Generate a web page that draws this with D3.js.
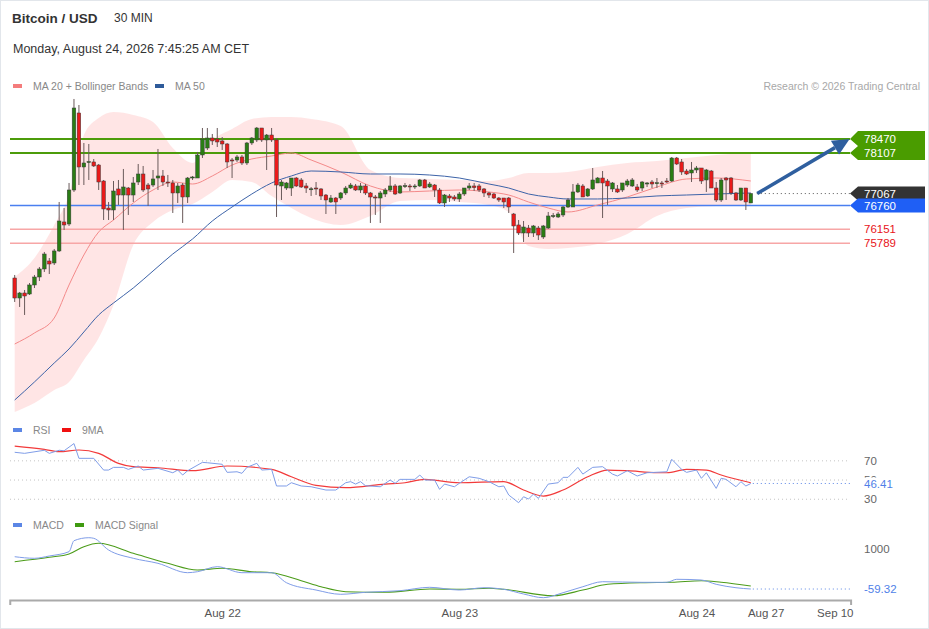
<!DOCTYPE html>
<html>
<head>
<meta charset="utf-8">
<script src="https://cdn.jsdelivr.net/npm/d3@7/dist/d3.min.js"></script>
<style>
  body { margin: 0; background: #fff; }
  svg { display: block; font-family: "Liberation Sans", Arial, sans-serif; }
</style>
</head>
<body>
<svg width="929" height="629"></svg>
<script>
// candles, 30 min, [open, high, low, close]
const candles = [
  [74897,74975,74281,74383],[74383,74538,74152,74512],[74512,74589,73947,74435],[74486,74769,74460,74718],
  [74718,74975,74640,74923],[74923,75180,74820,75129],[75129,75566,75052,75514],[75334,75411,75000,75257],
  [75283,75643,75231,75592],[75592,76851,75566,76362],[76337,76696,76131,76260],[76285,77339,76234,77159],
  [77159,79498,77108,79266],[79138,79343,77287,77750],[77750,78367,77287,77853],[77879,78341,77416,77890],
  [77879,77955,77750,77776],[77801,77827,77159,77364],[77390,77416,76388,76671],[76696,76851,76388,76645],
  [76645,77390,76388,77133],[77185,77416,76774,77030],[77030,77699,76131,77236],[77210,77236,76517,77030],
  [77030,77493,76851,77339],[77364,77827,77287,77570],[77570,77776,77108,77159],[77287,77339,76748,77185],
  [77287,77673,77236,77442],[77467,78213,77159,77519],[77519,77673,77262,77364],[77364,77545,77236,77339],
  [77339,77416,76568,77082],[77082,77339,76825,77262],[77287,77339,76311,76979],[76979,77493,76825,77467],
  [77467,77519,77416,77493],[77467,78136,77467,78059],[78059,78752,77981,78470],[78238,78752,78187,78495],
  [78495,78598,78316,78419],[78470,78752,78264,78393],[78419,78520,78187,78341],[78341,78367,77724,77879],
  [77930,77981,77467,77904],[77930,78059,77879,78007],[78007,78059,77801,77853],[77853,78393,77801,78367],
  [78367,78520,78316,78495],[78444,78778,78393,78752],[78752,78752,78393,78444],[78444,78598,77673,78572],
  [78572,78752,78393,78444],[78444,78495,76465,77287],[77262,77416,76902,77364],[77210,77364,77159,77339],
  [77210,77467,77005,77467],[77467,77493,77236,77262],[77416,77467,77210,77236],[77262,77339,77082,77210],
  [77185,77236,77005,77190],[77210,77364,77030,77185],[77185,77210,76902,77005],[77030,77056,76542,76902],
  [76851,77030,76825,76953],[76953,76979,76542,76851],[76953,77108,76902,77082],[77082,77262,77030,77210],
  [77210,77339,77185,77287],[77262,77313,77133,77159],[77159,77339,77082,77262],[77262,77313,77030,77082],
  [77082,77108,76311,76979],[76979,77030,76517,76953],[76953,77133,76311,77082],[77056,77210,76979,77159],
  [77159,77519,77108,77262],[77262,77313,77030,77056],[77082,77287,77056,77262],[77262,77339,77210,77270],
  [77262,77313,77133,77236],[77236,77313,77185,77262],[77262,77442,77236,77416],[77416,77442,77210,77210],
  [77236,77364,77210,77313],[77287,77313,76979,77159],[77159,77210,76799,76825],[76825,77056,76722,77030],
  [77005,77056,76851,76953],[76979,77030,76876,76928],[76928,77108,76851,77056],[77056,77210,77005,77210],
  [77210,77339,77159,77262],[77262,77339,77133,77220],[77262,77313,77108,77159],[77185,77210,76979,77082],
  [77082,77108,76953,77030],[77056,77082,76928,76953],[76953,76979,76851,76902],[76953,76953,76696,76851],
  [76953,76979,76568,76722],[76542,76568,75540,76234],[76260,76388,76002,76054],[76054,76362,75823,76208],
  [76182,76260,75951,76054],[76054,76260,75951,76234],[76182,76234,75874,76002],[75951,76260,75900,76234],
  [76182,76594,76157,76491],[76491,76568,76439,76500],[76465,76594,76439,76542],[76517,76748,76465,76722],
  [76722,76953,76696,76902],[76722,77313,76722,77108],[77108,77339,77082,77287],[77262,77313,76979,76979],
  [77005,77210,76979,77185],[77185,77724,77159,77416],[77339,77493,77339,77467],[77467,77647,76439,77339],
  [77390,77442,76774,77262],[77185,77364,77108,77339],[77185,77287,77082,77108],[77159,77339,77108,77339],
  [77287,77442,77236,77390],[77262,77467,77236,77416],[77236,77313,77108,77159],[77210,77390,77133,77364],
  [77313,77364,77236,77339],[77364,77416,77210,77313],[77339,77467,77210,77345],[77339,77390,77210,77313],
  [77390,77467,77339,77364],[77390,78007,77364,77981],[77981,78007,77801,77827],[77879,77955,77545,77622],
  [77647,77699,77545,77570],[77596,77879,77364,77673],[77673,77776,77596,77724],[77724,77724,77313,77390],
  [77416,77699,77108,77673],[77647,77673,77210,77210],[77210,77364,76851,76902],[76902,77467,76851,77416],
  [77467,77493,76902,77416],[77467,77493,77030,77082],[77082,77108,76876,76902],[76902,77210,76876,77210],
  [77210,77210,76645,76851],[76825,77082,76825,77067]
];

// moving averages and bands, read at these candle positions
const maIdx   = [0,4,8,11,14,17,20,24,28,32,36,40,44,48,52,56,60,66,72,78,84,90,96,100,104,108,112,118,124,130,136,142,149];
const ma20    = [73201,73484,73869,74718,75489,76080,76388,76825,77159,77364,77313,77519,77801,77956,78033,78110,77930,77622,77262,77108,77133,77159,77108,77030,76851,76696,76594,76774,76979,77236,77442,77467,77390];
const ma50    = [71762,72225,72713,73073,73510,73947,74255,74640,75077,75514,75900,76362,76722,77056,77339,77519,77647,77622,77570,77570,77544,77467,77313,77210,77056,76979,76928,76928,76953,77005,77030,77056,77082];
const bbUpper = [74923,75411,76260,77030,78572,79009,79164,79087,78907,78238,77853,78444,78727,78984,79035,79035,78984,78804,77673,77467,77442,77416,77390,77467,77596,77596,77622,77750,77853,77904,77981,78059,78110];
const bbLower = [71454,71685,72019,72225,72790,73355,74204,75746,76337,76645,76799,77108,77416,77364,77005,76696,76439,76260,76491,76876,76902,76851,76774,76594,75720,75643,75668,75771,76028,76491,76696,76748,76748];

// key levels
const resistances = [78470, 78107];
const pivot = 76760;
const supports = [76151, 75789];
const lastPrice = 77067;

// RSI + its 9 period average
const rsiIdx = [0,2,6,7,9,10,12,13,16,18,19,20,22,23,25,26,29,32,33,34,35,38,39,42,43,45,46,47,49,50,52,53,55,56,58,60,63,65,67,68,69,70,71,74,76,77,78,81,82,83,85,86,87,89,90,92,94,96,98,99,100,102,103,104,105,106,108,110,111,112,114,115,117,119,121,122,124,126,128,132,133,135,136,138,139,140,142,143,144,146,147,148,149];
const rsiVal = [78.9,77.8,81,77.8,81,80.5,88,72.6,72.6,60.4,60.4,63.2,63.2,61.1,64.6,60.4,62.2,57.6,60.4,55.2,59.7,68.4,68,66.4,58,58.6,57,63.2,67.4,60.4,61.1,43.8,43.8,47.2,43.8,43,39.6,39.6,47.2,48.3,45.8,48.3,44.1,43,50,46.6,50.7,50.7,55.2,50,50,40.3,45.8,43,46.6,53.4,51.8,48.3,43,43.8,34.4,26.4,32.6,30.2,35.4,30.9,45.8,47.2,52.8,52.8,63.2,56.2,63.2,63.9,56.2,54.2,59.7,54.2,57.6,58.6,71.6,61.1,58,60.4,51.8,57.6,41.3,51.8,50.7,43,48.3,43.8,46.41];
const rsiMaIdx = [0,6,9,13,17,21,24,29,36,43,52,56,61,67,75,79,83,90,99,103,107,111,116,120,124,130,132,136,140,143,149];
const rsiMaVal = [85.4,82,79.5,81.3,77.8,67.4,63.9,62.8,59.7,64.6,61.1,53.4,44.5,42,45.8,47.2,50.7,47.2,48.3,39.6,33.3,39.6,53.4,60.4,59.7,57.6,57.6,61.1,60.4,55.2,47.2];
const rsiTicks = [70, 50, 30];

// MACD
const macdIdx = [0,4,7,11,12,15,16,19,24,29,35,37,41,46,52,55,61,66,71,78,84,90,95,99,103,107,111,115,119,127,132,134,139,142,146,149];
const macdVal = [796,754,815,929,1220,1299,1283,974,754,621,373,399,532,373,373,108,-86,-199,-146,-104,-14,-86,-25,-67,-191,-289,-157,2,134,118,118,198,179,65,-25,-59.32];
const sigIdx = [0,7,11,14,17,24,31,37,42,48,52,58,62,67,75,84,90,96,99,109,115,120,127,133,139,143,149];
const sigVal = [664,780,868,1061,1151,886,621,444,489,399,373,161,2,-130,-146,-59,-67,-40,-67,-236,-86,65,108,118,161,118,20];

// time axis (candle index -> label)
const dateTicks = [42, 90, 138, 152, 166];
const dateLabels = ["Aug 22", "Aug 23", "Aug 24", "Aug 27", "Sep 10"];

const svg = d3.select("svg");
const W = 929, H = 629;

svg.append("rect").attr("x", 0.5).attr("y", 0.5).attr("width", W - 1).attr("height", H - 1)
  .attr("fill", "#fff").attr("stroke", "#e2e6eb");

const x = d3.scaleLinear().domain([0, 149]).range([14.7, 750.8]);
const y = d3.scaleLinear().domain([71248, 79600]).range([420, 95]);
const yRsi = d3.scaleLinear().domain([24, 91.7]).range([505, 440]);
const yMacd = d3.scaleLinear().domain([-297, 1503]).range([598, 530]);
const lineEnd = 850, lineStart = 10, labelX = 864;

// header
svg.append("text").attr("x", 12).attr("y", 23).attr("font-size", 13.5).attr("font-weight", "bold")
  .attr("fill", "#333").text("Bitcoin / USD");
svg.append("text").attr("x", 114).attr("y", 22).attr("font-size", 12).attr("fill", "#333").text("30 MIN");
svg.append("text").attr("x", 13).attr("y", 53).attr("font-size", 12.5).attr("fill", "#333")
  .text("Monday, August 24, 2026 7:45:25 AM CET");

function legend(items, ly) {
  items.forEach(it => {
    svg.append("rect").attr("x", it.x).attr("y", ly - 2).attr("width", 9).attr("height", 4).attr("fill", it.color);
    svg.append("text").attr("x", it.x + 20).attr("y", ly + 4).attr("font-size", 10.5).attr("fill", "#888").text(it.label);
  });
}
legend([{ x: 13, color: "#f47c7c", label: "MA 20 + Bollinger Bands" }, { x: 155, color: "#2f5b9a", label: "MA 50" }], 86);
svg.append("text").attr("x", 920).attr("y", 90).attr("text-anchor", "end").attr("font-size", 10.5)
  .attr("fill", "#a8a8a8").text("Research \u00a9 2026 Trading Central");

// bollinger band area
const bandPts = maIdx.map((d, i) => ({ i: d, hi: bbUpper[i], lo: bbLower[i] }));
svg.append("path").datum(bandPts)
  .attr("fill", "#ffe1e1").attr("opacity", 0.85)
  .attr("d", d3.area().curve(d3.curveMonotoneX).x(d => x(d.i)).y0(d => y(d.lo)).y1(d => y(d.hi)));

// key level lines
resistances.forEach(v => {
  svg.append("line").attr("x1", lineStart).attr("x2", lineEnd).attr("y1", y(v)).attr("y2", y(v))
    .attr("stroke", "#4c9c0a").attr("stroke-width", 2);
});
svg.append("line").attr("x1", lineStart).attr("x2", lineEnd).attr("y1", y(pivot)).attr("y2", y(pivot))
  .attr("stroke", "#4a7ff0").attr("stroke-width", 1.5);
supports.forEach(v => {
  svg.append("line").attr("x1", lineStart).attr("x2", lineEnd).attr("y1", y(v)).attr("y2", y(v))
    .attr("stroke", "#f7a6a6").attr("stroke-width", 1.5);
});

// moving averages
const maLine = vals => d3.line().curve(d3.curveMonotoneX).x((d, i) => x(maIdx[i])).y(d => y(d))(vals);
svg.append("path").attr("d", maLine(ma20)).attr("fill", "none").attr("stroke", "#f48a8a").attr("stroke-width", 1);
svg.append("path").attr("d", maLine(ma50)).attr("fill", "none").attr("stroke", "#3d63a8").attr("stroke-width", 1);

// candles
const bw = 3.6;
const cg = svg.append("g");
candles.forEach((c, i) => {
  const [o, h, l, cl] = c;
  const up = cl >= o;
  cg.append("line").attr("x1", x(i)).attr("x2", x(i)).attr("y1", y(h)).attr("y2", y(l))
    .attr("stroke", "#6a5a5a").attr("stroke-width", 1);
  const top = y(Math.max(o, cl)), bot = y(Math.min(o, cl));
  cg.append("rect").attr("x", x(i) - bw / 2).attr("y", top).attr("width", bw).attr("height", Math.max(1, bot - top))
    .attr("fill", up ? "#2a7d14" : "#ea1a1a").attr("stroke", "#3a3a3a").attr("stroke-width", 0.5);
});

// last price dotted line
svg.append("line").attr("x1", x(149) + 6).attr("x2", lineEnd).attr("y1", y(lastPrice)).attr("y2", y(lastPrice))
  .attr("stroke", "#555").attr("stroke-dasharray", "1,3");

// forecast arrow
const ax0 = x(150.3), ay0 = y(lastPrice), ax1 = x(169), ay1 = y(resistances[0]);
const ang = Math.atan2(ay1 - ay0, ax1 - ax0);
const hl = 17, hw = 8;
const bx = ax1 - hl * Math.cos(ang), by = ay1 - hl * Math.sin(ang);
svg.append("line").attr("x1", ax0).attr("y1", ay0).attr("x2", bx).attr("y2", by)
  .attr("stroke", "#2f5f9f").attr("stroke-width", 3.5);
svg.append("path").attr("fill", "#2f5f9f")
  .attr("d", `M${ax1},${ay1}L${bx - hw * Math.sin(ang)},${by + hw * Math.cos(ang)}L${bx + hw * Math.sin(ang)},${by - hw * Math.cos(ang)}Z`);

// right side tags
const tagL = 858, tagR = 925;
const r1 = y(resistances[0]), r2 = y(resistances[1]);
svg.append("path").attr("fill", "#4a9c00")
  .attr("d", `M${tagL},${r1 - 8}L${tagR},${r1 - 8}L${tagR},${r2 + 7}L${tagL},${r2 + 7}L${lineEnd},${r2}L${tagL},${(r1 + r2) / 2}L${lineEnd},${r1}Z`);
function tag(v, color) {
  const ty = y(v);
  svg.append("path").attr("fill", color)
    .attr("d", `M${tagL},${ty - 7}L${tagR},${ty - 7}L${tagR},${ty + 7}L${tagL},${ty + 7}L${lineEnd},${ty}Z`);
}
tag(lastPrice, "#333333");
tag(pivot, "#1f5ff5");
[...resistances, lastPrice, pivot].forEach(v => {
  svg.append("text").attr("x", labelX).attr("y", y(v) + 4).attr("font-size", 11.5).attr("fill", "#fff").text(v);
});
supports.forEach(v => {
  svg.append("text").attr("x", labelX).attr("y", y(v) + 4).attr("font-size", 11.5).attr("fill", "#e8141a").text(v);
});

// RSI panel
legend([{ x: 13, color: "#5b86e5", label: "RSI" }, { x: 62, color: "#f01010", label: "9MA" }], 430);
rsiTicks.forEach(t => {
  svg.append("line").attr("x1", lineStart).attr("x2", lineEnd).attr("y1", yRsi(t)).attr("y2", yRsi(t))
    .attr("stroke", "#c4c4c4").attr("stroke-dasharray", "1,3");
  svg.append("text").attr("x", labelX).attr("y", yRsi(t) + 4).attr("font-size", 11.5).attr("fill", "#666").text(t);
});
svg.append("path").datum(rsiMaVal).attr("fill", "none").attr("stroke", "#f23a3a").attr("stroke-width", 1.2)
  .attr("d", d3.line().curve(d3.curveMonotoneX).x((d, i) => x(rsiMaIdx[i])).y(d => yRsi(d)));
svg.append("path").datum(rsiVal).attr("fill", "none").attr("stroke", "#7f9de8").attr("stroke-width", 1)
  .attr("d", d3.line().x((d, i) => x(rsiIdx[i])).y(d => yRsi(d)));
const rsiLast = rsiVal[rsiVal.length - 1];
svg.append("line").attr("x1", x(149) + 2).attr("x2", lineEnd).attr("y1", yRsi(rsiLast)).attr("y2", yRsi(rsiLast))
  .attr("stroke", "#5b86e5").attr("stroke-dasharray", "1,3");
svg.append("rect").attr("x", labelX - 1).attr("y", yRsi(rsiLast) - 6).attr("width", 36).attr("height", 13).attr("fill", "#fff");
svg.append("text").attr("x", labelX).attr("y", yRsi(rsiLast) + 5).attr("font-size", 11.5).attr("fill", "#4f7fe8")
  .text(rsiLast.toFixed(2));

// MACD panel
legend([{ x: 13, color: "#5b86e5", label: "MACD" }, { x: 75, color: "#3f9a10", label: "MACD Signal" }], 525);
svg.append("text").attr("x", labelX).attr("y", yMacd(1000) + 4).attr("font-size", 11.5).attr("fill", "#666").text("1000");
svg.append("path").datum(sigVal).attr("fill", "none").attr("stroke", "#4c9c1a").attr("stroke-width", 1.1)
  .attr("d", d3.line().curve(d3.curveMonotoneX).x((d, i) => x(sigIdx[i])).y(d => yMacd(d)));
svg.append("path").datum(macdVal).attr("fill", "none").attr("stroke", "#7f9de8").attr("stroke-width", 1)
  .attr("d", d3.line().curve(d3.curveMonotoneX).x((d, i) => x(macdIdx[i])).y(d => yMacd(d)));
const macdLast = macdVal[macdVal.length - 1];
svg.append("line").attr("x1", x(149) + 2).attr("x2", lineEnd).attr("y1", yMacd(macdLast)).attr("y2", yMacd(macdLast))
  .attr("stroke", "#5b86e5").attr("stroke-dasharray", "1,3");
svg.append("text").attr("x", labelX).attr("y", yMacd(macdLast) + 4).attr("font-size", 11.5).attr("fill", "#4f7fe8")
  .text(macdLast.toFixed(2));

// time axis
const xAxisScale = x.copy().domain([-1, 169.2]).range([x(-1), x(169.2)]);
const axis = svg.append("g").attr("transform", "translate(0,600)")
  .call(d3.axisBottom(xAxisScale).tickValues(dateTicks).tickFormat((d, i) => dateLabels[i])
    .tickSizeInner(0).tickSizeOuter(5).tickPadding(9));
axis.select(".domain").attr("stroke", "#aaa").attr("stroke-width", 2);
axis.selectAll("text").attr("font-size", 11.5).attr("fill", "#555").attr("font-family", "Liberation Sans, Arial, sans-serif");
</script>
</body>
</html>
